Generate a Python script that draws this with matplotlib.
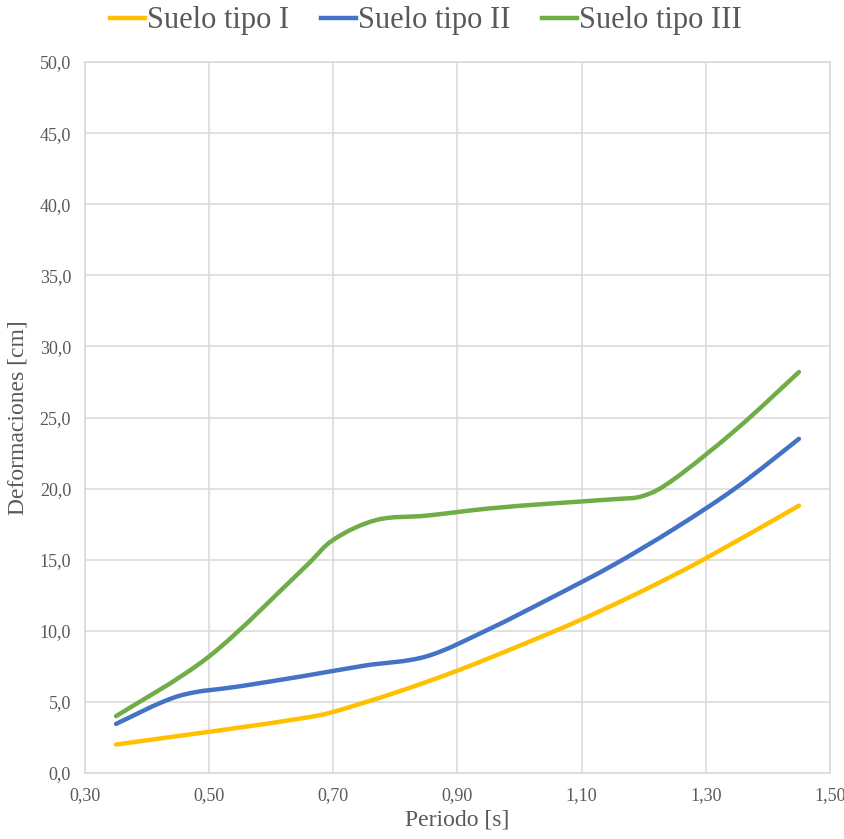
import matplotlib.pyplot as plt
import numpy as np
from matplotlib.path import Path
from matplotlib.patches import PathPatch
from matplotlib.lines import Line2D

plt.rcParams['font.family'] = ['Liberation Serif', 'DejaVu Serif']

# values (Periodo [s] vs Deformaciones [cm])
t_I = [0.35, 0.45, 0.55, 0.65, 0.70, 0.80, 0.90, 1.00, 1.10, 1.20, 1.30, 1.45]
d_I = [2.0, 2.6, 3.2, 3.85, 4.3, 5.65, 7.2, 8.95, 10.8, 12.85, 15.1, 18.8]

t_II = [0.35, 0.45, 0.55, 0.65, 0.75, 0.85, 0.95, 1.05, 1.15, 1.25, 1.35, 1.45]
d_II = [3.45, 5.4, 6.1, 6.8, 7.55, 8.2, 10.1, 12.3, 14.6, 17.2, 20.1, 23.5]

t_III = [0.35, 0.50, 0.65, 0.70, 0.77, 0.85, 0.95, 1.05, 1.15, 1.20, 1.25, 1.35, 1.45]
d_III = [4.0, 8.2, 14.3, 16.4, 17.8, 18.1, 18.6, 18.95, 19.25, 19.5, 20.7, 24.2, 28.2]

labels = ['Suelo tipo I', 'Suelo tipo II', 'Suelo tipo III']
colors = ['#FFC000', '#4472C4', '#70AD47']

xticks = [0.30, 0.50, 0.70, 0.90, 1.10, 1.30, 1.50]
yticks = [0, 5, 10, 15, 20, 25, 30, 35, 40, 45, 50]


def smooth_path(x, y):
    # catmull-rom style bezier like excel's smoothed line
    p = np.column_stack([x, y])
    n = len(p)
    verts = [p[0]]
    codes = [Path.MOVETO]
    for i in range(n - 1):
        p0 = p[i - 1] if i > 0 else p[i]
        p3 = p[i + 2] if i + 2 < n else p[i + 1]
        c1 = p[i] + (p[i + 1] - p0) / 6
        c2 = p[i + 1] - (p3 - p[i]) / 6
        verts += [c1, c2, p[i + 1]]
        codes += [Path.CURVE4] * 3
    return Path(verts, codes)


fig = plt.figure(figsize=(8.45, 8.39), dpi=100)
ax = fig.add_axes([0.1006, 0.0787, 0.8816, 0.8473])

grey = '#D9D9D9'
txt = '#595959'

for (x, y), c in zip([(t_I, d_I), (t_II, d_II), (t_III, d_III)], colors):
    ax.add_patch(PathPatch(smooth_path(x, y), fill=False, edgecolor=c,
                           lw=3.2, capstyle='round', joinstyle='round', zorder=3))

ax.set_xlim(0.30, 1.50)
ax.set_ylim(0, 50)
ax.set_xticks(xticks)
ax.set_yticks(yticks)
ax.set_xticklabels([f'{v:.2f}'.replace('.', ',') for v in xticks])
ax.set_yticklabels([f'{v:.1f}'.replace('.', ',') for v in yticks])
ax.grid(True, color=grey, lw=1.1)
ax.set_axisbelow(True)
for s in ax.spines.values():
    s.set_color(grey)
    s.set_linewidth(1.1)
ax.tick_params(length=0, labelsize=13, colors=txt, pad=10)

ax.set_xlabel('Periodo [s]', fontsize=17, color=txt, labelpad=4)
ax.set_ylabel('Deformaciones [cm]', fontsize=17, color=txt, labelpad=8)

handles = [Line2D([], [], color=c, lw=3.2) for c in colors]
fig.legend(handles, labels, loc='center', bbox_to_anchor=(0.504, 0.975),
           ncol=3, frameon=False, fontsize=22, handlelength=1.15,
           handletextpad=0.05, columnspacing=1.05, labelcolor=txt,
           borderpad=0, borderaxespad=0)

fig.savefig('out.png', dpi=100)
